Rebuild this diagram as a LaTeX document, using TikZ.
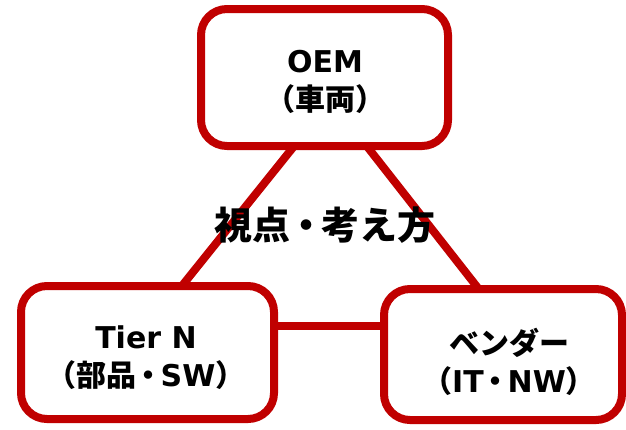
\documentclass[tikz,border=0pt]{standalone}
\usepackage{fontspec}
\setmainfont{Noto Sans CJK JP}
\newfontfamily\lat{DejaVu Sans}
\definecolor{boxred}{RGB}{192,0,0}
\newcommand{\ndot}{\kern-0.1em・\kern-0.1em}
\begin{document}
\begin{tikzpicture}[x=1pt,y=-1pt,
  box/.style={draw=boxred,line width=8pt,fill=white,rounded corners=26pt,
    rectangle,inner sep=0pt,outer sep=0pt},
  link/.style={draw=boxred,line width=8pt},
  lbl/.style={align=center,font=\fontsize{30}{38}\selectfont\bfseries,inner sep=0pt},
  ctr/.style={font=\fontsize{38}{40}\selectfont\bfseries,inner sep=0pt}]
\useasboundingbox (0,0) rectangle (626,429);
% connector ends
\coordinate (l1) at (299,140);
\coordinate (l2) at (177,292);
\coordinate (r1) at (362,140);
\coordinate (r2) at (485,297);
\coordinate (h1) at (270,326);
\coordinate (h2) at (390,326);
\draw[link] (l1) -- (l2);
\draw[link] (r1) -- (r2);
\draw[link] (h1) -- (h2);
% boxes
\node[box,minimum width=247pt,minimum height=137pt] (oem) at (324.5,77.5) {};
\node[box,minimum width=253pt,minimum height=133pt] (tier) at (147.5,352.5) {};
\node[box,minimum width=238pt,minimum height=131pt] (vendor) at (503,354.5) {};
% labels
\node[lbl] (toem) at (325,82) {{\lat\bfseries OEM}\\（車両）};
\node[lbl] (ttier) at (146,358) {{\lat\bfseries Tier N}\\（部品\ndot{\lat\bfseries SW}）};
\node[lbl] (tvendor) at (509,362) {ベンダー\\（{\lat\bfseries IT}\ndot{\lat\bfseries NW}）};
\node[ctr] (center) at (325,225) {視点\ndot 考え方};
\end{tikzpicture}
\end{document}
